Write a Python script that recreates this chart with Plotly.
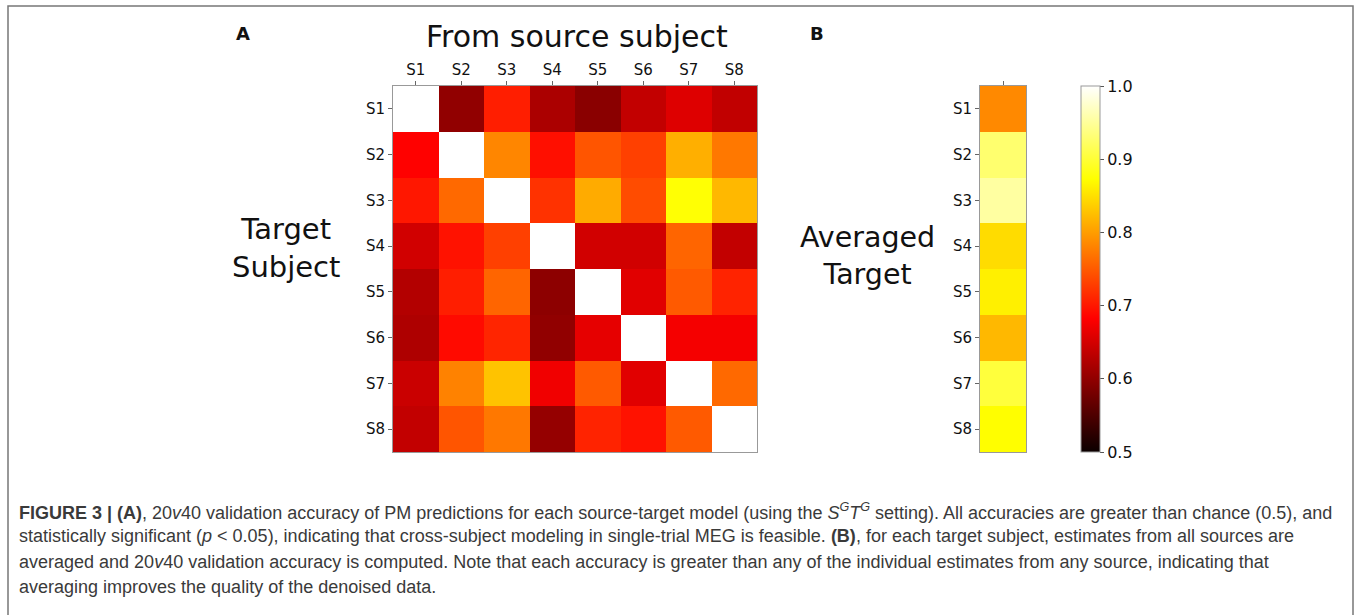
import numpy as np
import plotly.graph_objects as go

subjects = ["S1", "S2", "S3", "S4", "S5", "S6", "S7", "S8"]
# rows: target subject, cols: source subject (diagonal empty)
acc_S1 = [None, 0.600, 0.705, 0.620, 0.595, 0.637, 0.658, 0.636]
acc_S2 = [0.683, None, 0.783, 0.694, 0.746, 0.730, 0.813, 0.772]
acc_S3 = [0.700, 0.761, None, 0.720, 0.810, 0.739, 0.875, 0.820]
acc_S4 = [0.648, 0.696, 0.730, None, 0.648, 0.648, 0.758, 0.637]
acc_S5 = [0.626, 0.705, 0.758, 0.597, None, 0.660, 0.750, 0.709]
acc_S6 = [0.622, 0.690, 0.710, 0.600, 0.664, None, 0.675, 0.675]
acc_S7 = [0.643, 0.780, 0.828, 0.672, 0.750, 0.660, None, 0.761]
acc_S8 = [0.637, 0.746, 0.772, 0.603, 0.709, 0.696, 0.750, None]
averaged = [0.785, 0.928, 0.953, 0.847, 0.862, 0.820, 0.903, 0.872]
cbar_ticks = [0.5, 0.6, 0.7, 0.8, 0.9, 1.0]

caption_lines = [
    "<b>FIGURE 3 | (A)</b>, 20<i>v</i>40 validation accuracy of PM predictions for each source-target model (using the "
    "<i>S</i><sup><i>G</i></sup><i>T</i><sup><i>G</i></sup> setting). All accuracies are greater than chance (0.5), and",
    "statistically significant (<i>p</i> &lt; 0.05), indicating that cross-subject modeling in single-trial MEG is feasible. "
    "<b>(B)</b>, for each target subject, estimates from all sources are",
    "averaged and 20<i>v</i>40 validation accuracy is computed. Note that each accuracy is greater than any of the individual estimates from any source, indicating that",
    "averaging improves the quality of the denoised data.",
]

matrix = [acc_S1, acc_S2, acc_S3, acc_S4, acc_S5, acc_S6, acc_S7, acc_S8]
z = np.array([[np.nan if v is None else v for v in row] for row in matrix])

hot = [
    [0.0, "rgb(11,0,0)"],
    [0.365079, "rgb(255,0,0)"],
    [0.746032, "rgb(255,255,0)"],
    [1.0, "rgb(255,255,255)"],
]

W, H = 1358, 615
def px(x):
    return x / W
def py(y):
    return 1 - y / H

FONT = "DejaVu Sans"
fig = go.Figure()

fig.add_trace(go.Heatmap(
    z=z, x=subjects, y=subjects, colorscale=hot, zmin=0.5, zmax=1.0,
    showscale=False, xaxis="x", yaxis="y", hoverongaps=False,
))
fig.add_trace(go.Heatmap(
    z=[[v] for v in averaged], x=["avg"], y=subjects, colorscale=hot, zmin=0.5, zmax=1.0,
    xaxis="x2", yaxis="y2",
    colorbar=dict(
        x=px(1081), xanchor="left", xpad=0, ypad=0,
        y=py(452), yanchor="bottom", len=366, lenmode="pixels",
        thickness=19, thicknessmode="pixels",
        outlinecolor="#999", outlinewidth=1,
        tickvals=cbar_ticks, ticktext=[f"{t:.1f}" for t in cbar_ticks],
        ticks="outside", ticklen=4, tickcolor="#555",
        tickfont=dict(family=FONT, size=16, color="#111"),
    ),
))

axcommon = dict(showgrid=False, zeroline=False, showline=True, linecolor="#999",
                linewidth=1, mirror=True, ticks="outside", ticklen=4, tickcolor="#666",
                tickfont=dict(family=FONT, size=15, color="#111"))

fig.update_layout(
    width=W, height=H,
    margin=dict(l=0, r=0, t=0, b=0),
    paper_bgcolor="white", plot_bgcolor="white",
    xaxis=dict(domain=[px(393), px(757)], side="top", anchor="y", **axcommon),
    yaxis=dict(domain=[py(452), py(86)], autorange="reversed", anchor="x", **axcommon),
    xaxis2=dict(domain=[px(980), px(1026)], side="top", anchor="y2",
                tickvals=["avg"], showticklabels=False, **axcommon),
    yaxis2=dict(domain=[py(452), py(86)], autorange="reversed", anchor="x2", **axcommon),
    showlegend=False,
)

ann = [
    dict(text="<b>A</b>", x=px(243), y=py(33), font=dict(family=FONT, size=18, color="#111")),
    dict(text="<b>B</b>", x=px(817), y=py(33), font=dict(family=FONT, size=18, color="#111")),
    dict(text="From source subject", x=px(577), y=py(36), font=dict(family=FONT, size=30, color="#111")),
    dict(text="Target<br>Subject", x=px(286), y=py(248), font=dict(family=FONT, size=29, color="#111")),
    dict(text="Averaged<br>Target", x=px(868), y=py(256), font=dict(family=FONT, size=28.5, color="#111")),
]
for a in ann:
    fig.add_annotation(xref="paper", yref="paper", showarrow=False, xanchor="center",
                       yanchor="middle", **a)

cap_font = dict(family="Liberation Sans, Arial, sans-serif", size=18, color="#3a3a3a")
for i, line in enumerate(caption_lines):
    fig.add_annotation(text=line, xref="paper", yref="paper", x=px(17), y=py(511 + 25.3 * i),
                       xanchor="left", yanchor="middle", showarrow=False, font=cap_font, align="left")

fig.add_shape(type="rect", xref="paper", yref="paper", x0=px(8), x1=px(1353), y0=py(625), y1=py(6),
              line=dict(color="#777", width=1.5))

fig.write_html("out.html")
